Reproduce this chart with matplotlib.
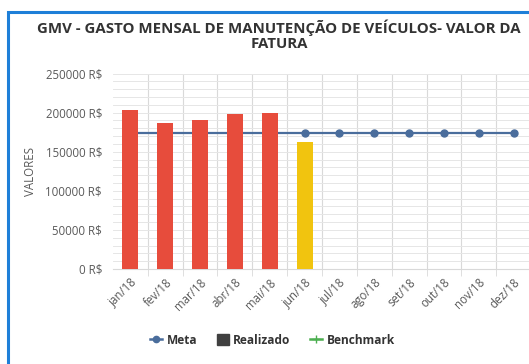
import matplotlib.pyplot as plt
from matplotlib.patches import Rectangle
from matplotlib.lines import Line2D
from matplotlib.ticker import MultipleLocator, FuncFormatter

meses = ["jan/18", "fev/18", "mar/18", "abr/18", "mai/18", "jun/18",
         "jul/18", "ago/18", "set/18", "out/18", "nov/18", "dez/18"]
realizado = [203500, 186500, 190000, 198000, 200000, 163000]
cores_realizado = ["#E74C3C"] * 5 + ["#F1C40F"]
meta = [173500] * 12

plt.rcParams['font.family'] = ['Open Sans', 'DejaVu Sans']

W, H = 529, 364
fig = plt.figure(figsize=(W / 100, H / 100), dpi=100)
fig.patch.set_facecolor("white")

# moldura azul do painel
fig.patches.append(Rectangle((8 / W, -0.05), 1.2, 1.05 - 12 / H,
                             transform=fig.transFigure, fill=False,
                             edgecolor="#1E7FD8", linewidth=2.2))

ax = fig.add_axes([113 / W, 1 - 269 / H, (531 - 113) / W, (269 - 73.6) / H])

x = list(range(len(meses)))
ax.plot(x, meta, color="#4A6D9C", linewidth=1.6, marker="o", markersize=5, zorder=2)
ax.bar(x[:len(realizado)], realizado, width=0.46, color=cores_realizado, zorder=3)

ax.set_xlim(-0.5, len(meses) - 0.5)
ax.set_ylim(0, 250000)
ax.yaxis.set_major_locator(MultipleLocator(50000))
ax.yaxis.set_minor_locator(MultipleLocator(10000))
ax.yaxis.set_major_formatter(FuncFormatter(lambda v, p: f"{int(v)} R$"))
ax.set_xticks([i + 0.5 for i in x], minor=True)
ax.set_xticks(x)
ax.set_xticklabels(meses, rotation=45, ha="right", rotation_mode="anchor",
                   fontsize=8.3, color="#595959")
ax.tick_params(axis="y", which="both", length=0, labelsize=8.3, labelcolor="#595959", pad=8)
ax.tick_params(axis="x", which="major", length=0, pad=5)
ax.tick_params(axis="x", which="minor", length=5, color="#D9D9D9")
ax.grid(True, axis="y", which="both", color="#E6E6E6", linewidth=0.7, zorder=0)
ax.grid(True, axis="x", which="minor", color="#D9D9D9", linewidth=0.8, zorder=0)
ax.set_axisbelow(True)
for s in ["top", "right", "left"]:
    ax.spines[s].set_visible(False)
ax.spines["bottom"].set_color("#D9D9D9")
ax.set_ylabel("VALORES", fontsize=8.3, color="#595959", labelpad=6)

fig.text(0.528, 1 - 35 / H, "GMV - GASTO MENSAL DE MANUTENÇÃO DE VEÍCULOS- VALOR DA\nFATURA",
         ha="center", va="center", fontsize=10.8, fontweight="bold",
         color="#333333", linespacing=1.05)

handles = [
    Line2D([], [], color="#4A6D9C", marker="o", markersize=4.5, linewidth=1.8),
    Rectangle((0, 0), 1, 1, color="#404040"),
    Line2D([], [], color="#4CAF50", marker="+", markersize=6, linewidth=1.8),
]
leg = fig.legend(handles, ["Meta", "Realizado", "Benchmark"], loc="center",
                 bbox_to_anchor=(0.515, 1 - 340 / H), ncol=3, frameon=False,
                 fontsize=8.6, handlelength=1.0, handleheight=1.0,
                 handletextpad=0.4, columnspacing=1.6)
for t in leg.get_texts():
    t.set_fontweight("bold")
    t.set_color("#333333")

fig.savefig("out.png", dpi=100)
